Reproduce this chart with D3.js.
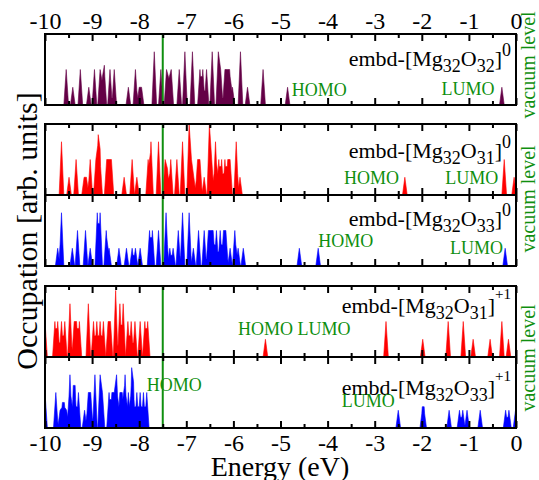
<!DOCTYPE html>
<html>
<head>
<meta charset="utf-8">
<script src="https://cdn.jsdelivr.net/npm/d3@7"></script>
<style>
  body { margin: 0; background: #fff; }
  svg { display: block; }
  text { font-family: "Liberation Serif", "Times New Roman", serif; }
</style>
</head>
<body>
<svg id="chart" width="539" height="480"></svg>
<script>
// tick labels of the energy axis (eV)
var majorTicks = [-10, -9, -8, -7, -6, -5, -4, -3, -2, -1, 0];
var minorTicks = [-9.5, -8.5, -7.5, -6.5, -5.5, -4.5, -3.5, -2.5, -1.5, -0.5];
var refEnergy = -7.5;   // green vertical line

// levels: [energy (eV), occupation]
var mg32o32 = [[-9.55,2],[-9.41,1],[-9.25,2],[-9.07,1],[-8.95,2],[-8.83,2],[-8.78,1.2],[-8.74,2],
  [-8.62,2],[-8.53,2],[-8.23,1],[-8.08,2],[-8.0,1],[-7.95,1],[-7.68,3],[-7.54,2],
  [-7.42,2],[-7.37,1.5],[-7.32,2],[-7.15,2],[-7.03,3],[-6.87,3],[-6.71,2],[-6.65,2],
  [-6.57,2],[-6.45,3],[-6.32,3],[-6.27,2],[-6.18,2],[-6.13,2],[-6.08,2],[-6.02,1],
  [-5.85,3],[-5.70,1],[-5.37,2],[-4.85,1],[-0.3,1]];
var mg32o31 = [[-9.65,3],[-9.49,1],[-9.34,2],[-9.17,1],[-9.12,1],[-9.04,2],[-8.92,2],[-8.87,3],
  [-8.83,2],[-8.69,2],[-8.64,2],[-8.59,2],[-8.32,1],[-8.15,2],[-8.05,1],[-7.81,2],
  [-7.75,3],[-7.59,3],[-7.45,2],[-7.40,1.5],[-7.33,2],[-7.2,2],[-7.08,3],[-6.94,4],
  [-6.89,2],[-6.84,1],[-6.76,2],[-6.71,2],[-6.62,1],[-6.51,4],[-6.46,2],[-6.38,3],
  [-6.31,2],[-6.25,2],[-6.18,2],[-6.12,2],[-6.07,2],[-5.94,3],[-5.86,1],[-2.36,1],
  [-0.25,2],[-0.04,1]];
var mg32o33 = [[-9.73,1],[-9.65,3],[-9.42,1],[-9.31,2],[-9.14,2],[-9.04,1],[-8.89,3],[-8.83,3],
  [-8.7,2],[-8.64,1],[-8.43,1],[-8.27,1],[-8.15,1],[-8.08,1],[-7.98,1],[-7.78,2],
  [-7.72,2],[-7.59,2],[-7.43,3],[-7.35,1],[-7.28,1],[-7.17,2],[-7.08,3],[-6.94,3],
  [-6.85,1],[-6.74,2],[-6.62,2],[-6.53,2],[-6.48,2],[-6.43,2],[-6.36,2],[-6.28,2],
  [-6.21,2],[-6.16,2],[-6.07,1],[-5.97,2],[-5.9,1],[-5.79,1],[-4.6,1],[-4.2,1],[-0.23,1]];
var mg32o31p = [[-10,2],[-9.79,2],[-9.73,2],[-9.65,2],[-9.58,2],[-9.47,3],[-9.38,2],[-9.33,2],
  [-9.27,2],[-9.08,3],[-8.97,2],[-8.9,2],[-8.83,2],[-8.76,2],[-8.66,2],[-8.61,2],
  [-8.5,3.75],[-8.41,3],[-8.34,3],[-8.24,2],[-8.17,2],[-8.09,2],[-7.98,2],[-7.88,2],
  [-7.82,2],[-5.32,1],[-2.76,2],[-1.98,1],[-1.44,2],[-1.12,2],[-0.91,1],[-0.55,1],
  [-0.3,2],[-0.16,1]];
var mg32o33p = [[-10,2],[-9.77,2],[-9.68,1],[-9.63,1.2],[-9.59,1.2],[-9.54,1],[-9.47,3],[-9.40,2],
  [-9.36,2],[-9.29,2],[-9.16,1],[-9.08,2],[-9.03,2],[-8.94,3],[-8.83,3],[-8.78,2],
  [-8.64,2],[-8.58,2],[-8.53,2],[-8.48,3],[-8.41,2],[-8.36,2],[-8.3,3],[-8.23,2],
  [-8.16,3],[-8.12,2],[-8.05,2],[-7.98,2],[-7.91,2],[-7.84,2],[-2.5,1],[-1.99,1],
  [-1.95,1],[-1.42,1],[-1.2,1],[-1.13,1],[-1.04,1],[-0.76,1],[-0.22,1],[-0.15,1],[-0.01,1]];

var series = [mg32o32, mg32o31, mg32o33, mg32o31p, mg32o33p];
var oxygen = ["32", "31", "33", "31", "33"];
var charge = ["0", "0", "0", "+1", "+1"];
var colors = ["#640046", "#ff0000", "#0000ff", "#ff0000", "#0000ff"];

var green = "#0f8f0f";
var svg = d3.select("#chart");
var x = d3.scaleLinear().domain([-10, 0]).range([45, 516]);

// panel layout
var tops = [34, 124, 195, 286, 357];
var ph = 71;
var labelY = [32, 34, 31, 27, 38];
var homoAt = [[-4.76, 62], [-3.65, 60], [-4.2, 52], [-5.9, 49], [-7.84, 34]];
var lumoAt = [[-1.58, 61], [-1.5, 60], [-1.4, 59], [null, 0], [-3.7, 50]];

var hw = 0.05; // half width of a level peak (eV)
function profile(levels) {
  // every level drawn as a narrow triangle; overlapping ones add up
  var xs = [];
  levels.forEach(function (p) { xs.push(p[0] - hw, p[0], p[0] + hw); });
  xs.sort(d3.ascending);
  return xs.map(function (t) {
    var v = d3.sum(levels, function (p) { return p[1] * Math.max(0, 1 - Math.abs(t - p[0]) / hw); });
    return [t, v];
  });
}

series.forEach(function (data, i) {
  var top = tops[i];
  var y = d3.scaleLinear().domain([0, 4]).range([top + ph, top]);
  var g = svg.append("g");

  g.append("clipPath").attr("id", "clip" + i)
    .append("rect").attr("x", x(-10)).attr("y", top).attr("width", x(0) - x(-10)).attr("height", ph);

  var area = d3.area().x(function (d) { return x(d[0]); })
    .y0(y(0)).y1(function (d) { return y(d[1]); });

  g.append("path").datum(profile(data))
    .attr("clip-path", "url(#clip" + i + ")")
    .attr("fill", colors[i]).attr("stroke", colors[i]).attr("stroke-width", 0.6)
    .attr("d", area);

  g.append("line")
    .attr("x1", x(refEnergy)).attr("x2", x(refEnergy))
    .attr("y1", top).attr("y2", top + ph)
    .attr("stroke", green).attr("stroke-width", 2);

  // ticks, pointing inwards, top and bottom
  var showTop = i === 0, showBottom = i === 4;
  var axT = d3.axisTop(x).tickValues(majorTicks).tickSize(-7).tickPadding(5)
    .tickFormat(showTop ? function (d) { return String(d); } : function () { return ""; });
  var axB = d3.axisBottom(x).tickValues(majorTicks).tickSize(-7).tickPadding(6)
    .tickFormat(showBottom ? function (d) { return String(d); } : function () { return ""; });
  var mT = d3.axisTop(x).tickValues(minorTicks).tickSize(-4).tickFormat("");
  var mB = d3.axisBottom(x).tickValues(minorTicks).tickSize(-4).tickFormat("");

  [[axT, top], [mT, top], [axB, top + ph], [mB, top + ph]].forEach(function (a) {
    var ag = g.append("g").attr("transform", "translate(0," + a[1] + ")").call(a[0]);
    ag.select(".domain").remove();
    ag.selectAll("line").attr("stroke", "#000").attr("stroke-width", 2);
    ag.selectAll("text").attr("font-family", "Liberation Serif, serif")
      .attr("font-size", 24).attr("fill", "#000");
  });

  g.append("rect").attr("x", x(-10)).attr("y", top)
    .attr("width", x(0) - x(-10)).attr("height", ph)
    .attr("fill", "none").attr("stroke", "#000").attr("stroke-width", 2);

  // system label
  var t = g.append("text").attr("x", 511).attr("y", top + labelY[i])
    .attr("text-anchor", "end").attr("font-size", 22).attr("fill", "#000");
  t.append("tspan").text("embd-[Mg");
  t.append("tspan").attr("font-size", 18).attr("dy", 6).text("32");
  t.append("tspan").attr("dy", -6).text("O");
  t.append("tspan").attr("font-size", 18).attr("dy", 6).text(oxygen[i]);
  t.append("tspan").attr("dy", -6).text("]");
  t.append("tspan").attr("font-size", i < 3 ? 18 : 15).attr("dy", i < 3 ? -10 : -14).text(charge[i]);

  // HOMO / LUMO markers
  if (homoAt[i][0] !== null) {
    g.append("text").attr("x", x(homoAt[i][0])).attr("y", top + homoAt[i][1])
      .attr("font-size", 18).attr("fill", green).text(i === 3 ? "HOMO LUMO" : "HOMO");
  }
  if (lumoAt[i][0] !== null) {
    g.append("text").attr("x", x(lumoAt[i][0])).attr("y", top + lumoAt[i][1])
      .attr("font-size", 18).attr("fill", green).text("LUMO");
  }
});

// vacuum level labels on the right
[65, 199, 358].forEach(function (cy) {
  svg.append("text").attr("transform", "translate(535," + cy + ") rotate(-90)")
    .attr("text-anchor", "middle").attr("font-size", 20).attr("fill", green)
    .text("vacuum level");
});

svg.append("text").attr("x", 280).attr("y", 476).attr("text-anchor", "middle")
  .attr("font-size", 28).text("Energy (eV)");

svg.append("text").attr("transform", "translate(37,231) rotate(-90)")
  .attr("text-anchor", "middle").attr("font-size", 30).text("Occupation [arb. units]");
</script>
</body>
</html>
